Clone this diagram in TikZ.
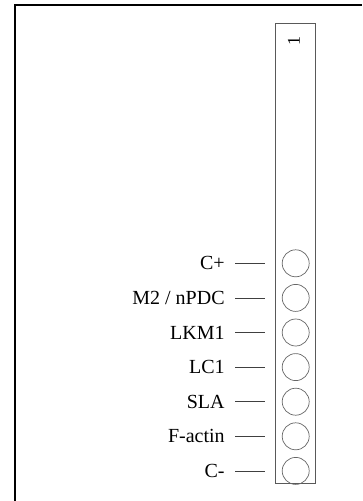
\documentclass[tikz,border=0pt]{standalone}
\usepackage{fontspec}
\setmainfont{Liberation Serif}
\usetikzlibrary{positioning}

\begin{document}
\begin{tikzpicture}[x=1pt, y=-1pt,
  frame/.style={draw=black, line width=2pt},
  strip/.style={rectangle, draw=black!65, line width=0.9pt, minimum width=39.3pt, minimum height=460pt, inner sep=0pt},
  well/.style={circle, draw=black!60, line width=0.7pt, minimum size=27pt, inner sep=0pt},
  lab/.style={anchor=east, inner sep=0pt, font=\fontsize{20}{22}\selectfont},
  tick/.style={draw=black!75, line width=0.8pt, shorten <=10.5pt, shorten >=16.5pt},
]
  \useasboundingbox (0,0) rectangle (362,501);
  \draw[frame] (15,501) -- (15,5) -- (362,5);

  \node[strip] (strip) at (295.35,253.5) {};
  \node[rotate=90, font=\fontsize{18}{20}\selectfont] (num) at (294,41) {1};

  \node[well] (cpos) at (295.7,263.3) {};
  \node[well, below=6.9pt of cpos] (m2) {};
  \node[well, below=6.9pt of m2] (lkm) {};
  \node[well, below=6.9pt of lkm] (lc) {};
  \node[well, below=6.9pt of lc] (sla) {};
  \node[well, below=6.9pt of sla] (fact) {};
  \node[well, below=6.9pt of fact] (cneg) {};

  \node[lab, left=57pt of cpos] (lcpos) {C+};
  \node[lab, left=57pt of m2] (lm2) {M2 / nPDC};
  \node[lab, left=57pt of lkm] (llkm) {LKM1};
  \node[lab, left=57pt of lc] (llc) {LC1};
  \node[lab, left=57pt of sla] (lsla) {SLA};
  \node[lab, left=57pt of fact] (lfact) {F-actin};
  \node[lab, left=57pt of cneg] (lcneg) {C-};

  \draw[tick] (lcpos.east) -- (cpos.west);
  \draw[tick] (lm2.east) -- (m2.west);
  \draw[tick] (llkm.east) -- (lkm.west);
  \draw[tick] (llc.east) -- (lc.west);
  \draw[tick] (lsla.east) -- (sla.west);
  \draw[tick] (lfact.east) -- (fact.west);
  \draw[tick] (lcneg.east) -- (cneg.west);
\end{tikzpicture}
\end{document}
